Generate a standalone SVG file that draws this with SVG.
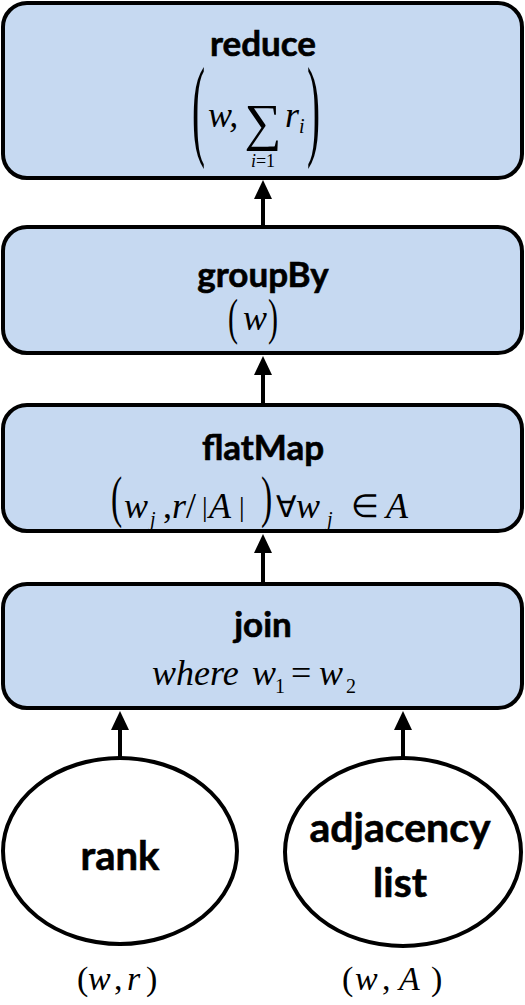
<svg xmlns="http://www.w3.org/2000/svg" width="525" height="1005" viewBox="0 0 525 1005">
<style>
.box{fill:#C6D9F1;stroke:#000;stroke-width:4}
.ell{fill:#fff;stroke:#000;stroke-width:4}
.lbl{font-family:Lato,"Open Sans",sans-serif;font-weight:bold;fill:#000;stroke:#000;stroke-width:0.6;text-anchor:middle}
.m{font-family:"Liberation Serif","Times New Roman",serif;fill:#000}
.mi{font-family:"Liberation Serif","Times New Roman",serif;font-style:italic;fill:#000}
.conn{stroke:#000;stroke-width:4;fill:none;marker-end:url(#ah)}
</style>
<defs>
<marker id="ah" markerUnits="userSpaceOnUse" markerWidth="19" markerHeight="18" viewBox="0 0 19 18" refX="3" refY="9" orient="auto">
<path d="M0,0 L19,9 L0,18 z" fill="#000"/>
</marker>
</defs>
<g id="reduce">
<rect class="box" x="3" y="3" width="519" height="175" rx="24"/>
<text class="lbl" x="263" y="56" font-size="35">reduce</text>
<text class="m" transform="translate(192,145) scale(0.35,1)" font-size="112">(</text>
<text class="mi" x="208" y="127" font-size="36">w,</text>
<text class="m" x="263" y="140" font-size="52" text-anchor="middle">∑</text>
<text class="mi" x="285" y="127" font-size="36">r</text>
<text class="mi" x="299" y="133" font-size="20">i</text>
<text class="m" x="263" y="167" font-size="18" text-anchor="middle"><tspan font-style="italic">i</tspan>=1</text>
<text class="m" transform="translate(307,145) scale(0.35,1)" font-size="112">)</text>
</g>
<g id="groupBy">
<rect class="box" x="3" y="227" width="519" height="126" rx="24"/>
<text class="lbl" x="263" y="287" font-size="35">groupBy</text>
<text class="m" transform="translate(228,334) scale(0.6,1)" font-size="50">(</text>
<text class="mi" x="243" y="330" font-size="36">w</text>
<text class="m" transform="translate(268,334) scale(0.6,1)" font-size="50">)</text>
</g>
<g id="flatMap">
<rect class="box" x="3" y="405" width="519" height="126" rx="24"/>
<text class="lbl" x="263" y="460" font-size="35">flatMap</text>
<text class="m" transform="translate(111,516) scale(0.6,1)" font-size="56">(</text>
<text class="mi" x="124" y="518" font-size="36">w</text>
<text class="mi" x="150" y="526" font-size="20">j</text>
<text class="m" x="163" y="518" font-size="36">,</text>
<text class="mi" x="172" y="518" font-size="36">r</text>
<text class="m" x="186" y="518" font-size="36">/</text>
<text class="m" x="202" y="516" font-size="28">|</text>
<text class="mi" x="209" y="518" font-size="36">A</text>
<text class="m" x="239" y="516" font-size="28">|</text>
<text class="m" transform="translate(261,516) scale(0.6,1)" font-size="56">)</text>
<text x="276" y="517" font-size="30" font-family="DejaVu Sans,sans-serif">∀</text>
<text class="mi" x="296" y="518" font-size="36">w</text>
<text class="mi" x="327" y="526" font-size="20">j</text>
<text class="m" x="351" y="517" font-size="32">∈</text>
<text class="mi" x="386" y="518" font-size="36">A</text>
</g>
<g id="join">
<rect class="box" x="3" y="584" width="519" height="124" rx="24"/>
<text class="lbl" x="263" y="637" font-size="35">join</text>
<text class="mi" x="152" y="685" font-size="36">where</text>
<text class="mi" x="252" y="685" font-size="36">w</text>
<text class="m" x="275" y="693" font-size="20">1</text>
<text class="m" x="291" y="685" font-size="36">=</text>
<text class="mi" x="319" y="685" font-size="36">w</text>
<text class="m" x="346" y="693" font-size="20">2</text>
</g>
<g id="rank">
<ellipse class="ell" cx="120" cy="851" rx="117" ry="93"/>
<text class="lbl" x="120" y="870" font-size="40">rank</text>
<text class="m" x="77" y="990" font-size="34">(</text>
<text class="mi" x="88" y="990" font-size="34">w</text>
<text class="m" x="114" y="990" font-size="34">,</text>
<text class="mi" x="127" y="990" font-size="34">r</text>
<text class="m" x="146" y="990" font-size="34">)</text>
</g>
<g id="adjacency">
<ellipse class="ell" cx="403" cy="852" rx="118" ry="94"/>
<text class="lbl" x="400" y="842" font-size="41">adjacency</text>
<text class="lbl" x="400" y="897" font-size="41">list</text>
<text class="m" x="342" y="990" font-size="34">(</text>
<text class="mi" x="355" y="990" font-size="34">w</text>
<text class="m" x="382" y="990" font-size="34">,</text>
<text class="mi" x="399" y="990" font-size="34">A</text>
<text class="m" x="431" y="990" font-size="34">)</text>
</g>
<g id="connectors">
<line class="conn" x1="263" y1="225" x2="263" y2="196"/>
<line class="conn" x1="263" y1="403" x2="263" y2="372"/>
<line class="conn" x1="263" y1="582" x2="263" y2="550"/>
<line class="conn" x1="120" y1="757" x2="120" y2="727"/>
<line class="conn" x1="403" y1="758" x2="403" y2="727"/>
</g>
</svg>
